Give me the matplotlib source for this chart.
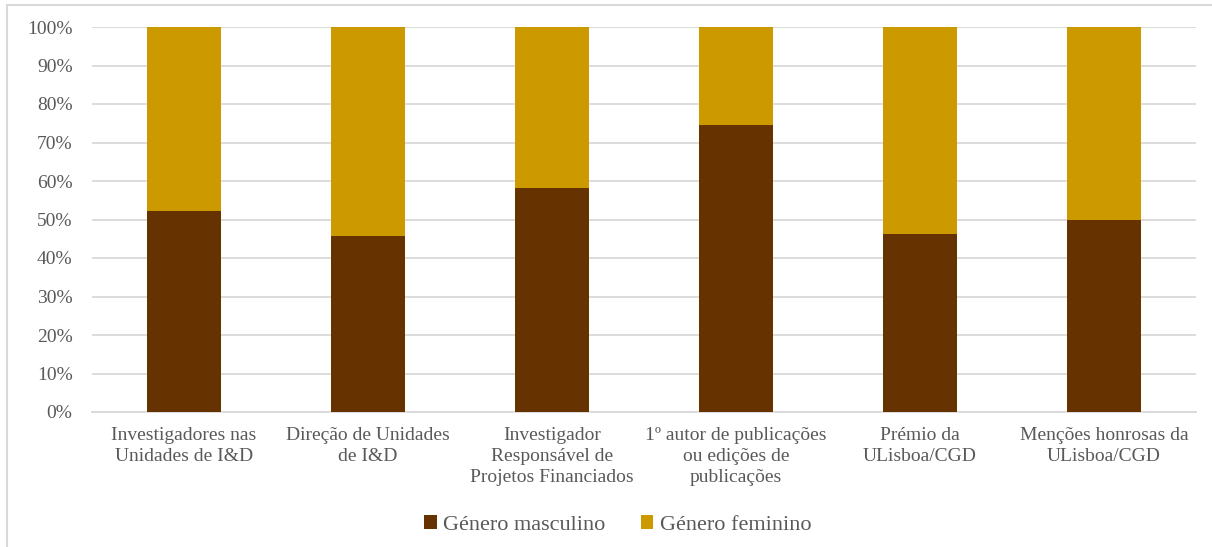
import matplotlib
matplotlib.use("Agg")
import matplotlib.pyplot as plt
from matplotlib.lines import Line2D
from matplotlib.patches import Patch

categories = [
    "Investigadores nas\nUnidades de I&D",
    "Direção de Unidades\nde I&D",
    "Investigador\nResponsável de\nProjetos Financiados",
    "1º autor de publicações\nou edições de\npublicações",
    "Prémio da\nULisboa/CGD",
    "Menções honrosas da\nULisboa/CGD",
]
masculino = [52.2, 45.7, 58.2, 74.5, 46.2, 50.0]
feminino = [100 - v for v in masculino]
series_names = ["Género masculino", "Género feminino"]
colors = ["#663300", "#CC9900"]
yticks = list(range(0, 101, 10))

plt.rcParams['font.family'] = ['Liberation Serif', 'DejaVu Serif']

W, H = 1212, 547
fig = plt.figure(figsize=(W / 100, H / 100), dpi=100)
ax = fig.add_axes([92 / W, (H - 412) / H, (1196 - 92) / W, 385 / H])

x = list(range(len(categories)))
ax.bar(x, masculino, width=0.40, color=colors[0], label=series_names[0], zorder=3)
ax.bar(x, feminino, width=0.40, bottom=masculino, color=colors[1], label=series_names[1], zorder=3)

ax.set_xlim(-0.5, len(categories) - 0.5)
ax.set_ylim(0, 100)
ax.set_yticks(yticks)
ax.set_yticklabels([f"{t}%" for t in yticks])
ax.yaxis.grid(True, color="#D9D9D9", linewidth=1.3, zorder=0)
ax.set_axisbelow(True)
for s in ["top", "right", "left"]:
    ax.spines[s].set_visible(False)
ax.spines["bottom"].set_color("#D9D9D9")
ax.spines["bottom"].set_linewidth(1.3)
ax.tick_params(axis="both", length=0, labelsize=14, colors="#595959")
ax.tick_params(axis="y", pad=14)
ax.tick_params(axis="x", pad=11)
ax.set_xticks(x)
ax.set_xticklabels(categories, linespacing=1.3)
for lbl in ax.get_xticklabels():
    lbl.set_horizontalalignment("center")
    lbl.set_verticalalignment("top")

handles = [Patch(facecolor=c, edgecolor="none") for c in colors]
fig.legend(handles, series_names, loc="center", bbox_to_anchor=(618 / W, 1 - 525 / H),
           ncol=2, frameon=False, fontsize=16, labelcolor="#595959",
           handlelength=0.55, handleheight=0.55, handletextpad=0.3, columnspacing=1.6)

# outer chart border
fig.add_artist(Line2D([7 / W, 7 / W], [0, 1 - 5 / H], color="#D9D9D9", linewidth=1.5, transform=fig.transFigure))
fig.add_artist(Line2D([7 / W, 1], [1 - 5 / H, 1 - 5 / H], color="#D9D9D9", linewidth=1.5, transform=fig.transFigure))

fig.savefig("out.png", dpi=100)
